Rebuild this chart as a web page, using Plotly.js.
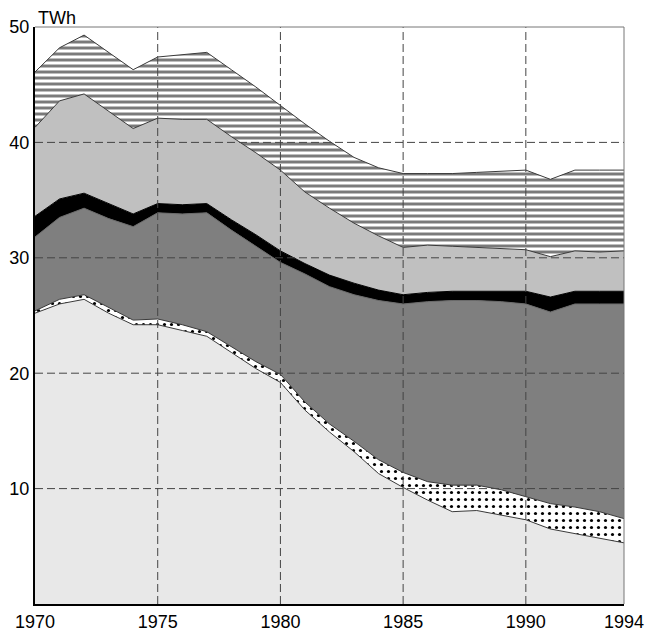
<!DOCTYPE html>
<html>
<head>
<meta charset="utf-8">
<script src="https://cdn.plot.ly/plotly-3.0.1.min.js"></script>
<style>
  html, body { margin: 0; padding: 0; background: #ffffff; }
  #chart { width: 646px; height: 633px; }
</style>
</head>
<body>
<div id="chart"></div>
<script>
// Years
const years = [1970,1971,1972,1973,1974,1975,1976,1977,1978,1979,1980,1981,1982,
               1983,1984,1985,1986,1987,1988,1989,1990,1991,1992,1993,1994];

// Layer values (TWh), bottom to top
const layer1 = [25.2,26.0,26.4,25.2,24.2,24.2,23.7,23.2,21.8,20.4,19.2,16.8,14.9,
                13.2,11.3,10.1,9.0,8.0,8.1,7.7,7.3,6.5,6.1,5.7,5.3];
const layer2 = [0.2,0.4,0.4,0.5,0.4,0.5,0.5,0.4,0.5,0.6,0.7,0.7,0.7,
                0.9,1.2,1.3,1.6,2.3,2.2,2.2,2.0,2.2,2.3,2.3,2.1];
const layer3 = [6.4,7.1,7.5,7.7,8.1,9.2,9.6,10.3,10.1,10.0,9.7,11.1,11.9,
                12.7,13.8,14.6,15.6,16.0,16.0,16.3,16.7,16.6,17.6,18.0,18.6];
const layer4 = [1.8,1.6,1.3,1.3,1.1,0.8,0.8,0.8,0.9,1.0,1.0,0.9,1.0,
                1.0,0.9,0.8,0.8,0.8,0.8,0.9,1.1,1.3,1.1,1.1,1.1];
const layer5 = [7.7,8.5,8.6,8.0,7.4,7.4,7.4,7.3,7.2,7.1,7.0,6.2,5.8,
                5.2,4.7,4.1,4.1,3.9,3.8,3.7,3.6,3.5,3.5,3.4,3.5];
const layer6 = [4.8,4.6,5.1,5.1,5.1,5.3,5.6,5.8,5.8,5.7,5.6,5.9,5.8,
                5.7,5.9,6.4,6.2,6.3,6.5,6.7,6.9,6.7,7.0,7.1,7.0];

// Tick labels
const xTicks = [1970,1975,1980,1985,1990,1994];
const yTicks = [10,20,30,40,50];
const xRange = [1970,1994];
const yRange = [0,50];
const unitLabel = 'TWh';

const edge = '#3a3a3a';
function layer(y, fill, lineColor, pattern) {
  const t = {
    x: years, y: y, type: 'scatter', mode: 'lines',
    stackgroup: 'one',
    line: { color: lineColor, width: 1 },
    fillcolor: fill,
    hoverinfo: 'x+y'
  };
  if (pattern) t.fillpattern = pattern;
  return t;
}

const traces = [
  layer(layer1, '#e8e8e8', edge),
  layer(layer2, '#ffffff', edge, { shape: '.', fgcolor: '#000000', bgcolor: '#ffffff', size: 7, solidity: 0.16 }),
  layer(layer3, '#7f7f7f', '#6a6a6a'),
  layer(layer4, '#000000', '#000000'),
  layer(layer5, '#c0c0c0', edge),
  layer(layer6, '#ffffff', edge, { shape: '-', fgcolor: '#7a7a7a', bgcolor: '#ffffff', size: 6, solidity: 0.5 })
];

const grid = { color: '#444444', width: 1, dash: '8px,4px' };
const shapes = [];
xTicks.filter(v => v > xRange[0] && v < xRange[1]).forEach(v => {
  shapes.push({ type: 'line', layer: 'above', xref: 'x', yref: 'paper', x0: v, x1: v, y0: 0, y1: 1, line: grid });
});
yTicks.filter(v => v > yRange[0] && v < yRange[1]).forEach(v => {
  shapes.push({ type: 'line', layer: 'above', xref: 'paper', yref: 'y', x0: 0, x1: 1, y0: v, y1: v, line: grid });
});
// thin frame on top and right
shapes.push({ type: 'line', layer: 'above', xref: 'paper', yref: 'paper', x0: 0, x1: 1, y0: 1, y1: 1, line: { color: '#777', width: 1 } });
shapes.push({ type: 'line', layer: 'above', xref: 'paper', yref: 'paper', x0: 1, x1: 1, y0: 0, y1: 1, line: { color: '#777', width: 1 } });

const font = { family: 'Liberation Sans, Arial, sans-serif', size: 18, color: '#000' };

const layout = {
  width: 646, height: 633,
  margin: { l: 35, r: 22, t: 27, b: 29, pad: 0 },
  paper_bgcolor: '#ffffff', plot_bgcolor: '#ffffff',
  showlegend: false,
  font: font,
  xaxis: {
    range: xRange, tickvals: xTicks, ticktext: xTicks.map(String),
    showgrid: false, zeroline: false, showline: true, linecolor: '#000', linewidth: 2,
    ticks: '', tickfont: font, layer: 'above traces', fixedrange: true
  },
  yaxis: {
    range: yRange, tickvals: yTicks, ticktext: yTicks.map(String),
    showgrid: false, zeroline: false, showline: true, linecolor: '#000', linewidth: 2,
    ticks: '', tickfont: font, layer: 'above traces', fixedrange: true
  },
  shapes: shapes,
  annotations: [{
    text: unitLabel, xref: 'paper', yref: 'paper', x: 0, y: 1,
    xanchor: 'left', yanchor: 'bottom', showarrow: false, font: font, xshift: 1, yshift: -3
  }]
};

Plotly.newPlot('chart', traces, layout, { displayModeBar: false, staticPlot: true });
</script>
</body>
</html>
